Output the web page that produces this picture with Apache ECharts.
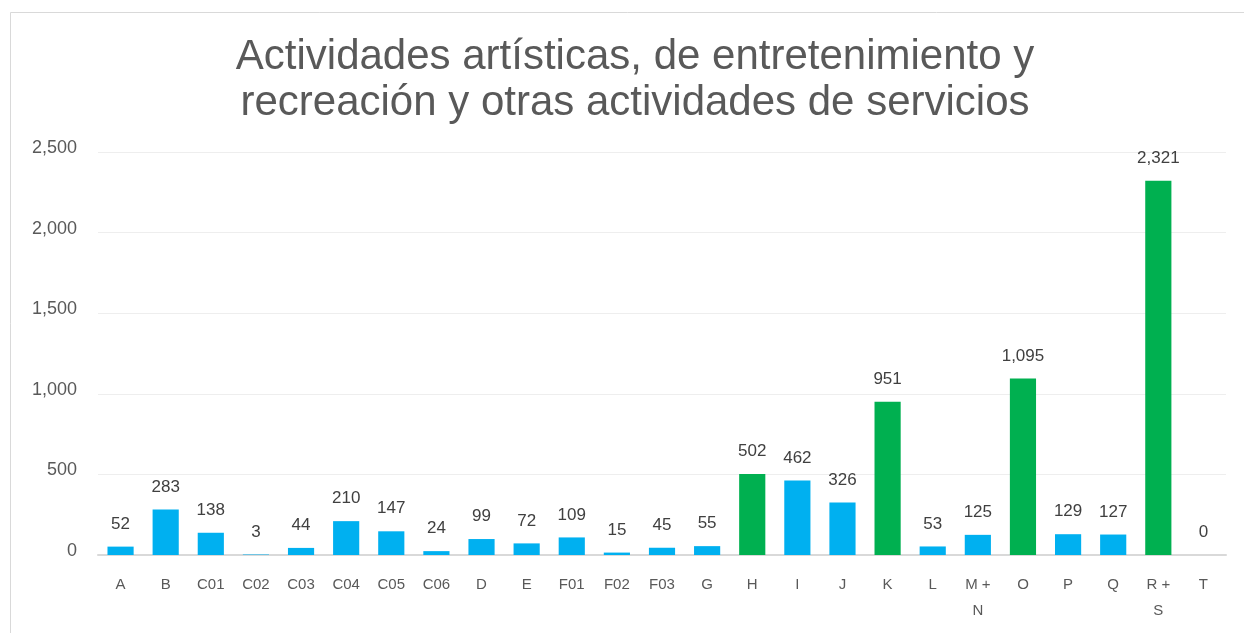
<!DOCTYPE html>
<html>
<head>
<meta charset="utf-8">
<script src="https://cdn.jsdelivr.net/npm/echarts@6/dist/echarts.min.js"></script>
<style>
  html, body { margin: 0; padding: 0; background: #fff; }
  #chart { width: 1244px; height: 633px; }
</style>
</head>
<body>
<div id="chart"></div>
<script>
// categorías y valores
var categories = ['A', 'B', 'C01', 'C02', 'C03', 'C04', 'C05', 'C06', 'D', 'E', 'F01', 'F02', 'F03', 'G',
  'H', 'I', 'J', 'K', 'L', 'M + N', 'O', 'P', 'Q', 'R + S', 'T'];
var values = [52, 283, 138, 3, 44, 210, 147, 24, 99, 72, 109, 15, 45, 55,
  502, 462, 326, 951, 53, 125, 1095, 129, 127, 2321, 0];
// categorías resaltadas en verde
var highlighted = ['H', 'K', 'O', 'R + S'];

var blue = '#00B0F0';
var green = '#00B050';

var chart = echarts.init(document.getElementById('chart'));

var option = {
  backgroundColor: '#fff',
  animation: false,
  // marco del gráfico
  graphic: [{
    type: 'rect',
    shape: { x: 10.5, y: 12.5, width: 1260, height: 660 },
    style: { fill: 'none', stroke: '#d9d9d9', lineWidth: 1 },
    silent: true
  }],
  title: {
    text: 'Actividades artísticas, de entretenimiento y\nrecreación y otras actividades de servicios',
    left: 630,
    textAlign: 'center',
    top: 29,
    textStyle: {
      fontFamily: 'Liberation Sans',
      fontSize: 42,
      fontWeight: 'normal',
      color: '#595959',
      lineHeight: 46
    }
  },
  grid: {
    left: 98,
    right: 18,
    top: 152,
    bottom: 78,
    containLabel: false
  },
  xAxis: {
    type: 'category',
    data: categories,
    axisLine: { lineStyle: { color: '#d9d9d9', width: 2 } },
    axisTick: { show: false },
    axisLabel: {
      interval: 0,
      margin: 17,
      color: '#595959',
      fontFamily: 'Liberation Sans',
      fontSize: 15,
      lineHeight: 26,
      formatter: function (v) { return v.replace(' + ', ' +\n'); }
    }
  },
  yAxis: {
    type: 'value',
    min: 0,
    max: 2500,
    interval: 500,
    axisLine: { show: false },
    axisTick: { show: false },
    splitLine: { lineStyle: { color: '#eeeeee', width: 1 } },
    axisLabel: {
      margin: 21,
      color: '#595959',
      fontFamily: 'Liberation Sans',
      fontSize: 18,
      verticalAlign: 'bottom',
      padding: [0, 0, -5, 0],
      formatter: function (v) { return v.toLocaleString('en-US'); }
    }
  },
  series: [{
    type: 'bar',
    barWidth: '58%',
    data: values.map(function (v, i) {
      return {
        value: v,
        itemStyle: { color: highlighted.indexOf(categories[i]) >= 0 ? green : blue }
      };
    }),
    label: {
      show: true,
      position: 'top',
      distance: 14,
      color: '#404040',
      fontFamily: 'Liberation Sans',
      fontSize: 17,
      formatter: function (p) { return p.value.toLocaleString('en-US'); }
    }
  }]
};

chart.setOption(option);
</script>
</body>
</html>
